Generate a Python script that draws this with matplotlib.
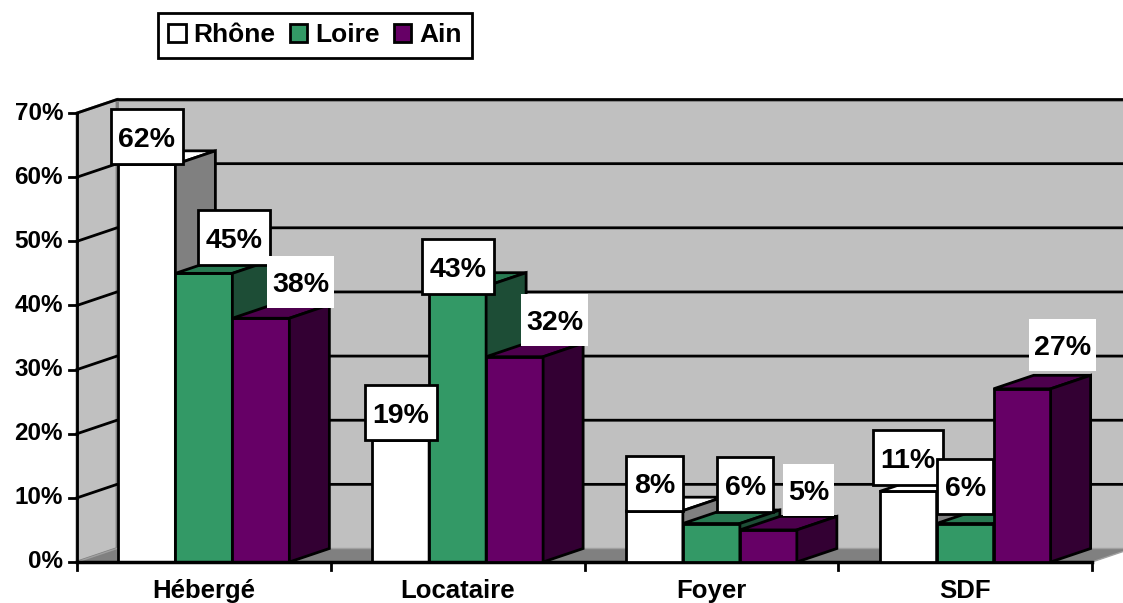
import matplotlib.pyplot as plt
from matplotlib.patches import Polygon, Rectangle, Patch

categories = ['Hébergé', 'Locataire', 'Foyer', 'SDF']
series = ['Rhône', 'Loire', 'Ain']
rhone = [62, 19, 8, 11]
loire = [45, 43, 6, 6]
ain = [38, 32, 5, 27]
yticks = [0, 10, 20, 30, 40, 50, 60, 70]

# face colours: front, top, side
colors = [('#ffffff', '#ffffff', '#808080'),
          ('#339966', '#287a52', '#1d4d36'),
          ('#660066', '#4d004d', '#330033')]
# label placement: depth (0 = front, 1 = back) and extra lift in pixels
label_depth = [[0, 0, 0, 0], [0.75, 0, 0.85, 0], [1, 1, 1, 1]]
label_lift = [[0, 0, 0, 6], [-2, -8, 0, 10], [-3, -3, 0, 4]]
label_edge = ['black', 'black', 'none']

plt.rcParams['font.family'] = ['Liberation Sans', 'DejaVu Sans']
plt.rcParams['font.weight'] = 'bold'

fig = plt.figure(figsize=(11.23, 6.03), dpi=100)
ax = fig.add_axes([0, 0, 1, 1])
ax.axis('off')

# pixel calibration of the original chart
x0_px, cat_px, y0_px, pct_px = 77, 253.75, 562, 6.414
ax.set_xlim(-x0_px / cat_px, (1123 - x0_px) / cat_px)
ax.set_ylim((y0_px - 603) / pct_px, y0_px / pct_px)

n = len(categories)
top = yticks[-1]
ddx, ddy = 40 / cat_px, 13.5 / pct_px

# walls and floor
ax.add_patch(Polygon([(ddx, ddy), (n + ddx, ddy), (n + ddx, top + ddy), (ddx, top + ddy)],
                     closed=True, fc='#c0c0c0', ec='#808080', lw=2, zorder=1))
ax.add_patch(Polygon([(0, 0), (ddx, ddy), (ddx, top + ddy), (0, top)],
                     closed=True, fc='#c0c0c0', ec='#808080', lw=2, zorder=1))
ax.add_patch(Polygon([(0, 0), (n, 0), (n + ddx, ddy), (ddx, ddy)],
                     closed=True, fc='#808080', ec='#a0a0a0', lw=1, zorder=1))

for t in yticks[1:]:
    ax.plot([0, ddx, n + ddx], [t, t + ddy, t + ddy], color='black', lw=2, zorder=2)
for t in yticks:
    ax.plot([-0.03, 0], [t, t], color='black', lw=2, zorder=2)
    ax.text(-0.055, t, f'{t}%', ha='right', va='center', fontsize=17.5, fontweight='bold')

ax.plot([0, 0], [0, top], color='black', lw=2, zorder=2)
ax.plot([0, n], [0, 0], color='black', lw=2.5, zorder=8)
for i in range(n + 1):
    ax.plot([i, i], [0, -1.3], color='black', lw=2, zorder=2)
for i, c in enumerate(categories):
    ax.text(i + 0.5, -4.5, c, ha='center', va='center', fontsize=18.5, fontweight='bold')

# bars
w = 0.2246
gap = (1 - 3 * w) / 2
values = [rhone, loire, ain]
for i in range(n):
    for s in range(3):
        v = values[s][i]
        x = i + gap + s * w
        front, topc, side = colors[s]
        z = 3 + i * 3 + s
        ax.add_patch(Rectangle((x, 0), w, v, fc=front, ec='black', lw=2, zorder=z))
        ax.add_patch(Polygon([(x, v), (x + w, v), (x + w + ddx, v + ddy), (x + ddx, v + ddy)],
                             closed=True, fc=topc, ec='black', lw=2, zorder=z))
        ax.add_patch(Polygon([(x + w, 0), (x + w + ddx, ddy), (x + w + ddx, v + ddy), (x + w, v)],
                             closed=True, fc=side, ec='black', lw=2, zorder=z))

# data labels: white boxes sized around the text, in pixels
renderer = fig.canvas.get_renderer()
for i in range(n):
    for s in range(3):
        v = values[s][i]
        d = label_depth[s][i]
        xa, ya = ax.transData.transform((i + gap + s * w + w / 2 + d * ddx, v + d * ddy))
        ya += label_lift[s][i]
        box_h = 55 if label_edge[s] != 'none' else 52
        t = ax.text(xa, ya + box_h / 2, f'{v}%', ha='center', va='center_baseline', fontsize=20.5,
                    fontweight='bold', transform=None, zorder=31 + 2 * s)
        tw = t.get_window_extent(renderer).width
        bw = tw + (15 if label_edge[s] != 'none' else 10)
        ax.add_patch(Rectangle((xa - bw / 2, ya), bw, box_h, transform=None,
                               fc='white', ec=label_edge[s], lw=2, zorder=30 + 2 * s))

handles = [Patch(fc=colors[s][0], ec='black', lw=2) for s in range(3)]
leg = fig.legend(handles, series, loc='center', bbox_to_anchor=(315 / 1123, 1 - 35.5 / 603), ncol=3,
                 fancybox=False, edgecolor='black', framealpha=1,
                 prop={'size': 19, 'weight': 'bold'},
                 handlelength=0.65, handleheight=0.65, handletextpad=0.3,
                 columnspacing=0.55, borderpad=0.4, borderaxespad=0)
leg.get_frame().set_linewidth(2)

plt.savefig('out.png', dpi=100)
